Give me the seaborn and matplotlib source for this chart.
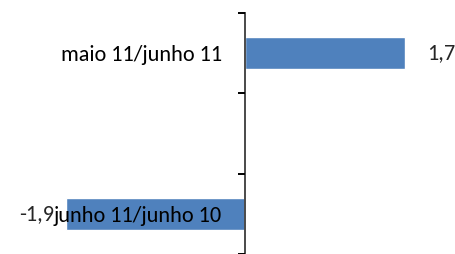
import numpy as np
import pandas as pd
import matplotlib
matplotlib.use("Agg")
import matplotlib.pyplot as plt
import seaborn as sns

categories = ["maio 11/junho 11", "junho 11/junho 10"]
values = [1.7, -1.9]
value_labels = ["1,7", "-1,9"]
order = ["maio 11/junho 11", " ", "junho 11/junho 10"]

sns.set_style("white")
plt.rcParams['font.family'] = ['Carlito', 'DejaVu Sans']

df = pd.DataFrame({"cat": categories, "val": values})

fig = plt.figure(figsize=(4.56, 2.54), dpi=100)
ax = fig.add_axes([0, 0, 1, 1])
sns.barplot(data=df, y="cat", x="val", order=order, orient="h", color="#4F81BD",
            width=0.4, saturation=1, ax=ax)
ax.set_axisbelow(False)

ax.set_xlim(-2.603, 2.242)
ax.set_ylim(2.415, -0.66)

for s in ["top", "right", "bottom"]:
    ax.spines[s].set_visible(False)
ax.spines["left"].set_position(("data", 0))
ax.spines["left"].set_bounds(-0.5, 2.5)
ax.spines["left"].set_color("#4a4a4a")
ax.spines["left"].set_linewidth(1.4)

ax.set_xticks([])
ax.set_yticks([-0.5, 0.5, 1.5, 2.5])
ax.set_yticklabels([])
ax.set_yticks([0, 1, 2], minor=True)
ax.set_yticklabels(order, minor=True, fontsize=16, color="black")
ax.tick_params(axis="y", which="major", direction="out", length=5, width=1.4,
               color="black", left=True)
ax.tick_params(axis="y", which="minor", length=0, pad=16.5)
ax.set_xlabel("")
ax.set_ylabel("")

for cat, v, lab in zip(categories, values, value_labels):
    y = order.index(cat)
    if v >= 0:
        ax.annotate(lab, (v, y), xytext=(22, 0), textcoords="offset pixels",
                    ha="left", va="center", fontsize=16, zorder=5)
    else:
        ax.annotate(lab, (v, y), xytext=(-12, 0), textcoords="offset pixels",
                    ha="right", va="center", fontsize=16, zorder=5)

fig.savefig("out.png", dpi=100)
